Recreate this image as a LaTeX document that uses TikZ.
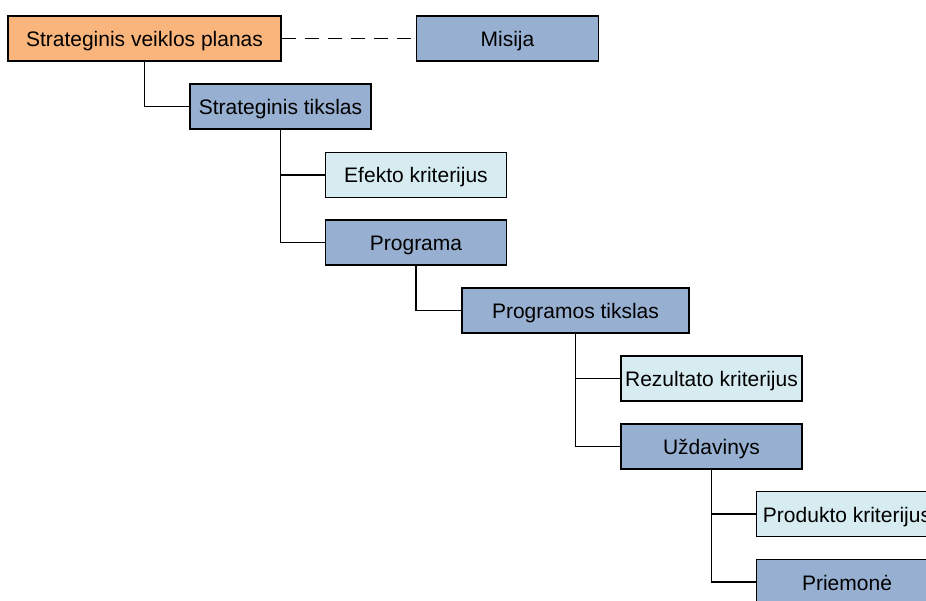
\documentclass[tikz,border=0pt]{standalone}
\usepackage{fontspec}
\setmainfont{Liberation Sans}
\definecolor{orangefill}{HTML}{FAB57D}
\definecolor{bluefill}{HTML}{97AFD0}
\definecolor{lightfill}{HTML}{D6ECF1}
\tikzset{
  box/.style={draw=black, line width=1.8pt, minimum height=45pt, inner sep=0pt,
    text height=16pt, text depth=0pt,
    font=\fontsize{21}{24}\selectfont, anchor=center},
  orangebox/.style={box, fill=orangefill},
  bluebox/.style={box, fill=bluefill},
  lightbox/.style={box, fill=lightfill},
  link/.style={draw=black, line width=1.8pt},
}
\begin{document}
\begin{tikzpicture}[x=1pt,y=-1pt]
\useasboundingbox (0,0) rectangle (926,601);
\clip (0,0) rectangle (926,601);
\node[orangebox, minimum width=273pt] (svp) at (144.5,38.5) {Strateginis veiklos planas};
\node[bluebox, minimum width=182pt] (mis) at (507.5,38.5) {Misija};
\node[bluebox, minimum width=181pt] (st) at (280.5,106.5) {Strateginis tikslas};
\node[lightbox, minimum width=181pt] (ek) at (416,175) {Efekto kriterijus};
\node[bluebox, minimum width=181pt] (pr) at (416,242.5) {Programa};
\node[bluebox, minimum width=227pt] (pt) at (575.5,310.5) {Programos tikslas};
\node[lightbox, minimum width=181pt] (rk) at (711.5,378.5) {Rezultato kriterijus};
\node[bluebox, minimum width=181pt] (uz) at (711.5,446.5) {Uždavinys};
\node[lightbox, minimum width=181pt] (pk) at (847,514) {Produkto kriterijus};
\node[bluebox, minimum width=181pt] (pm) at (847,582) {Priemonė};

\draw[link, dash pattern=on 14pt off 9pt] (svp.east) -- (mis.west);
\draw[link] (svp.south) |- (st.west);
\draw[link] (st.south) |- (ek.west);
\draw[link] (st.south) |- (pr.west);
\draw[link] (pr.south) |- (pt.west);
\draw[link] (pt.south) |- (rk.west);
\draw[link] (pt.south) |- (uz.west);
\draw[link] (uz.south) |- (pk.west);
\draw[link] (uz.south) |- (pm.west);
\end{tikzpicture}
\end{document}
